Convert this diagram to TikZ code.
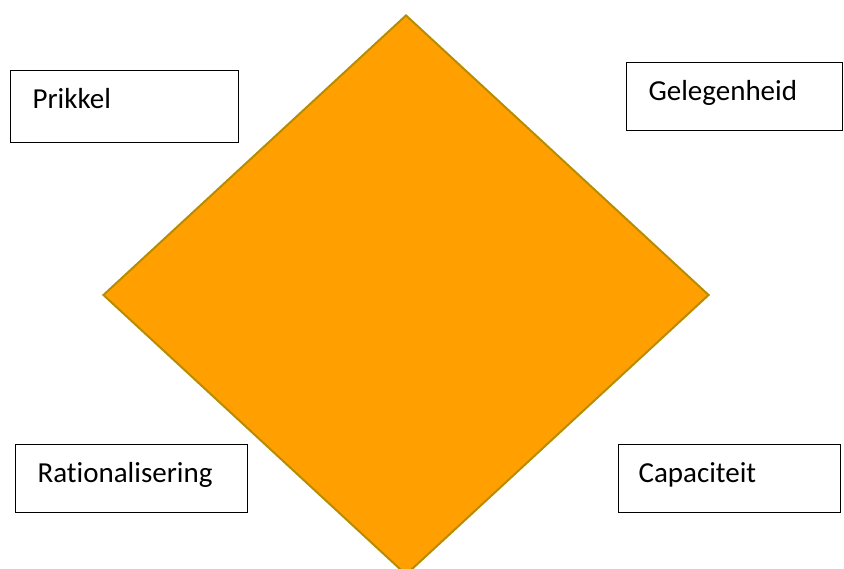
\documentclass[tikz,border=0pt]{standalone}
\usepackage{fontspec}
\setmainfont[Ligatures=NoCommon]{Carlito}
\usetikzlibrary{shapes.geometric}
\definecolor{ruitfill}{RGB}{255,160,0}
\definecolor{ruitline}{RGB}{184,140,0}
\begin{document}
\begin{tikzpicture}[x=1pt,y=-1pt,
  vak/.style={draw=black, line width=1.2pt, fill=white, rectangle, anchor=north west,
    inner xsep=22pt, inner ysep=17pt, text height=21pt, text depth=13pt, align=left,
    font=\fontsize{29}{33}\selectfont},
  ruit/.style={diamond, draw=ruitline, fill=ruitfill, line width=2pt, inner sep=0pt,
    minimum width=606pt, minimum height=560pt}]
  \useasboundingbox (0,0) rectangle (844,569);
  \node [ruit] (fraude) at (406,295) {};
  \node [vak, text width=184pt, text depth=17pt] (prikkel) at (10,70) {Prikkel};
  \node [vak, text width=172pt] (gelegenheid) at (626,62) {Gelegenheid};
  \node [vak, text width=188pt] (rationalisering) at (15,444) {Rationalisering};
  \node [vak, text width=182pt, inner xsep=20pt] (capaciteit) at (618,444) {Capaciteit};
\end{tikzpicture}
\end{document}
